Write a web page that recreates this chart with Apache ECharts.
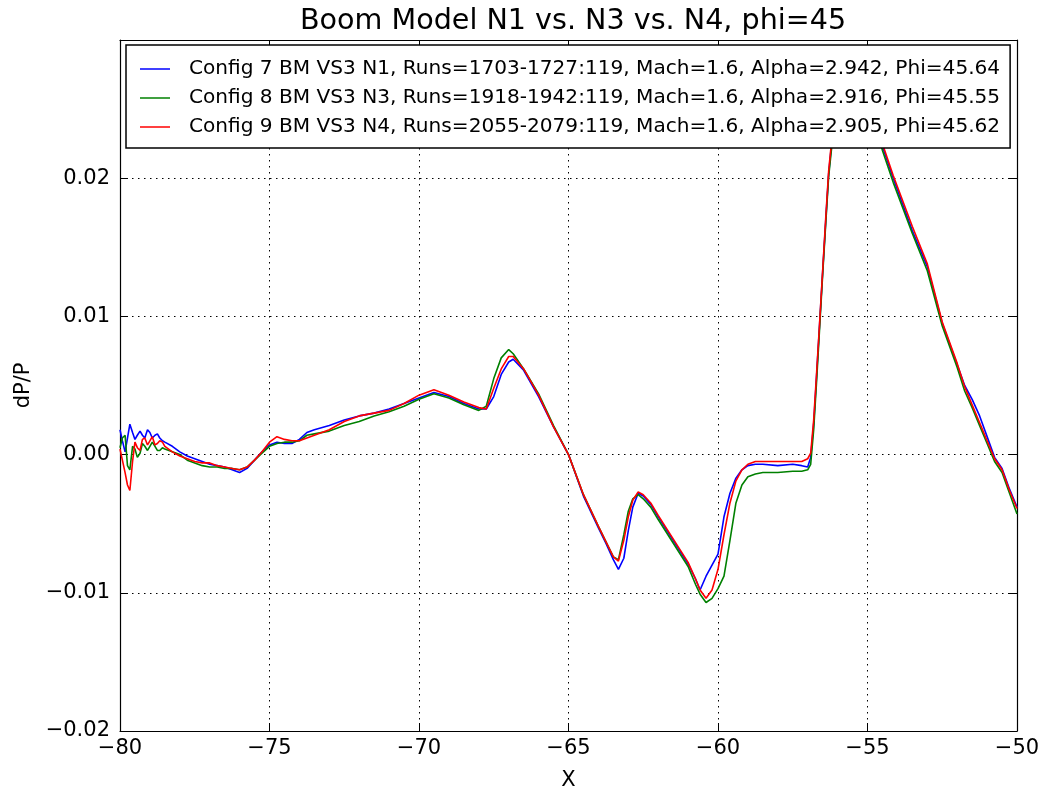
<!DOCTYPE html>
<html>
<head>
<meta charset="utf-8">
<script src="https://cdn.jsdelivr.net/npm/echarts@6/dist/echarts.min.js"></script>
<style>
html,body{margin:0;padding:0;background:#fff;}
#chart{width:1045px;height:786px;}
</style>
</head>
<body>
<div id="chart"></div>
<script>
const titleText = 'Boom Model N1 vs. N3 vs. N4, phi=45';
const seriesNames = [
  'Config 7 BM VS3 N1, Runs=1703-1727:119, Mach=1.6, Alpha=2.942, Phi=45.64',
  'Config 8 BM VS3 N3, Runs=1918-1942:119, Mach=1.6, Alpha=2.916, Phi=45.55',
  'Config 9 BM VS3 N4, Runs=2055-2079:119, Mach=1.6, Alpha=2.905, Phi=45.62'
];
const xTicks = [-80, -75, -70, -65, -60, -55, -50];
const yTicks = [-0.02, -0.01, 0.00, 0.01, 0.02];

const xs = [
 -80.00,-79.92,-79.83,-79.75,-79.67,-79.58,-79.50,-79.42,-79.33,-79.25,-79.17,-79.08,-79.00,-78.92,-78.83,-78.75,-78.67,-78.58,-78.50,
 -78.25,-78.00,-77.75,-77.50,-77.25,-77.00,-76.75,-76.50,-76.25,-76.00,-75.75,-75.50,-75.25,-75.00,-74.75,-74.50,-74.25,-74.00,-73.75,-73.50,
 -73.00,-72.50,-72.00,-71.50,-71.00,-70.50,-70.00,-69.50,-69.00,-68.50,-68.00,-67.75,-67.50,-67.25,-67.00,-66.85,-66.50,-66.00,-65.50,-65.00,
 -64.50,-64.00,-63.75,-63.50,-63.33,-63.15,-63.00,-62.85,-62.67,-62.50,-62.25,-62.00,-61.50,-61.00,-60.75,-60.60,-60.40,-60.20,-60.00,-59.80,
 -59.60,-59.40,-59.20,-59.00,-58.75,-58.50,-58.00,-57.50,-57.20,-57.00,-56.90,-56.80,-56.70,-56.60,-56.50,-56.40,-56.30,-56.20,-56.00,-55.80,
 -55.60,-55.40,-55.00,-54.50,-54.14,-53.50,-53.00,-52.50,-52.00,-51.75,-51.50,-51.25,-51.00,-50.75,-50.50,-50.25,-50.00
];

const yN1 = [
 0.0018,0.0010,0.0002,0.0012,0.0022,0.0016,0.0011,0.0014,0.0017,0.0014,0.0012,0.0018,0.0016,0.0012,0.0014,0.0015,0.0012,0.0010,0.0009,
 0.0006,0.0002,-0.0001,-0.0003,-0.0005,-0.0007,-0.0008,-0.0009,-0.0011,-0.0013,-0.0010,-0.0004,0.0002,0.0007,0.0009,0.0008,0.0008,0.0011,0.0016,0.0018,
 0.0021,0.0025,0.0028,0.0030,0.0033,0.0037,0.0041,0.0045,0.0042,0.0037,0.0033,0.0033,0.0042,0.0058,0.0067,0.0069,0.0061,0.0042,0.0020,0.0000,
 -0.0030,-0.0053,-0.0064,-0.0076,-0.0083,-0.0075,-0.0055,-0.0038,-0.0028,-0.0030,-0.0036,-0.0045,-0.0062,-0.0079,-0.0090,-0.0098,-0.0088,-0.0080,-0.0072,-0.0045,
 -0.0028,-0.0017,-0.0011,-0.0008,-0.0007,-0.0007,-0.0008,-0.0007,-0.0008,-0.0009,-0.0002,0.0022,0.0058,0.0095,0.0132,0.0168,0.0203,0.0225,0.0263,0.0285,
 0.0292,0.0288,0.0263,0.0223,0.0200,0.0162,0.0136,0.0095,0.0065,0.0050,0.0040,0.0028,0.0013,-0.0002,-0.0010,-0.0025,-0.0038
];

const yN3 = [
 0.0005,0.0012,0.0014,-0.0008,-0.0011,0.0006,0.0004,-0.0002,0.0001,0.0008,0.0006,0.0003,0.0006,0.0009,0.0006,0.0003,0.0003,0.0005,0.0004,
 0.0002,0.0000,-0.0004,-0.0006,-0.0008,-0.0009,-0.0009,-0.0010,-0.0010,-0.0011,-0.0009,-0.0004,0.0001,0.0006,0.0008,0.0009,0.0009,0.0010,0.0014,0.0015,
 0.0017,0.0021,0.0024,0.0028,0.0031,0.0035,0.0040,0.0044,0.0041,0.0036,0.0032,0.0035,0.0055,0.0070,0.0076,0.0073,0.0062,0.0044,0.0021,0.0000,
 -0.0029,-0.0052,-0.0063,-0.0074,-0.0076,-0.0058,-0.0041,-0.0032,-0.0029,-0.0032,-0.0038,-0.0047,-0.0064,-0.0081,-0.0094,-0.0101,-0.0107,-0.0104,-0.0097,-0.0088,
 -0.0062,-0.0035,-0.0022,-0.0016,-0.0014,-0.0013,-0.0013,-0.0012,-0.0012,-0.0011,-0.0007,0.0018,0.0054,0.0092,0.0130,0.0166,0.0201,0.0222,0.0260,0.0283,
 0.0290,0.0286,0.0261,0.0220,0.0197,0.0160,0.0133,0.0093,0.0063,0.0046,0.0034,0.0021,0.0008,-0.0005,-0.0013,-0.0028,-0.0043
];

const yN4 = [
 0.0004,-0.0004,-0.0013,-0.0022,-0.0026,-0.0005,0.0009,0.0005,0.0003,0.0011,0.0012,0.0007,0.0010,0.0013,0.0007,0.0008,0.0010,0.0009,0.0006,
 0.0002,-0.0001,-0.0003,-0.0005,-0.0006,-0.0006,-0.0008,-0.0009,-0.0010,-0.0011,-0.0009,-0.0004,0.0002,0.0009,0.0013,0.0011,0.0010,0.0010,0.0012,0.0014,
 0.0018,0.0024,0.0028,0.0030,0.0032,0.0037,0.0043,0.0047,0.0043,0.0038,0.0034,0.0033,0.0048,0.0062,0.0071,0.0071,0.0062,0.0043,0.0020,0.0000,
 -0.0029,-0.0052,-0.0063,-0.0074,-0.0077,-0.0062,-0.0045,-0.0033,-0.0027,-0.0029,-0.0035,-0.0044,-0.0061,-0.0078,-0.0090,-0.0098,-0.0104,-0.0098,-0.0083,-0.0058,
 -0.0035,-0.0019,-0.0011,-0.0007,-0.0005,-0.0005,-0.0005,-0.0005,-0.0005,-0.0003,0.0001,0.0025,0.0060,0.0096,0.0133,0.0170,0.0205,0.0227,0.0265,0.0287,
 0.0294,0.0290,0.0265,0.0225,0.0202,0.0165,0.0138,0.0096,0.0066,0.0049,0.0036,0.0023,0.0010,-0.0003,-0.0011,-0.0026,-0.0039
];

const colors = ['#0000ff', '#008000', '#ff0000'];
const FONT = 'DejaVu Sans';

function pairs(ys) { return xs.map((x, i) => [x, ys[i]]); }
function fmtX(v) { return String(v).replace('-', '\u2212'); }
function fmtY(v) {
  const r = Math.round(v * 100) / 100;
  if (Math.abs(r - 0.03) < 1e-9) return '';
  return r.toFixed(2).replace('-', '\u2212');
}

const chart = echarts.init(document.getElementById('chart'), null, {renderer: 'canvas'});
const gridLine = {show: true, lineStyle: {color: '#000', type: [1.5, 4.5], width: 1}};
const axisLine = {show: true, onZero: false, lineStyle: {color: '#000', width: 1.2}};
const tickIn = {show: true, inside: true, length: 8, lineStyle: {color: '#000', width: 1}};

chart.setOption({
  animation: false,
  backgroundColor: '#fff',
  textStyle: {fontFamily: FONT},
  title: {
    text: titleText,
    left: 568, top: 2, textAlign: 'center',
    textStyle: {fontFamily: FONT, fontSize: 28.6, fontWeight: 'normal', color: '#000'}
  },
  grid: {left: 120, right: 28, top: 40, bottom: 55, containLabel: false, outerBoundsMode: 'none'},
  legend: {
    orient: 'vertical',
    left: 126, top: 45,
    z: 50, zlevel: 0,
    backgroundColor: '#fff',
    borderColor: '#000', borderWidth: 1.5,
    padding: [14, 10, 11, 14],
    itemGap: 9,
    itemWidth: 30, itemHeight: 20,
    icon: 'path://M0,0 L30,0 L30,1.5 L0,1.5 Z',
    data: seriesNames.map((n, i) => ({name: n, itemStyle: {color: colors[i]}})),
    textStyle: {fontFamily: FONT, fontSize: 20.1, color: '#000', padding: [0, 0, 0, 14]}
  },
  xAxis: [
    {type: 'value', min: -80, max: -50, interval: 5, position: 'bottom',
     name: 'X', nameLocation: 'middle', nameGap: 39,
     nameTextStyle: {fontFamily: FONT, fontSize: 21, color: '#000'},
     axisLine: axisLine, axisTick: tickIn, splitLine: gridLine,
     axisLabel: {fontFamily: FONT, fontSize: 21, color: '#000', margin: 7, formatter: fmtX}},
    {type: 'value', min: -80, max: -50, interval: 5, position: 'top',
     axisLine: axisLine, axisTick: tickIn, splitLine: {show: false}, axisLabel: {show: false}}
  ],
  yAxis: [
    {type: 'value', min: -0.02, max: 0.03, interval: 0.01, position: 'left',
     name: 'dP/P', nameLocation: 'middle', nameGap: 86, nameRotate: 90,
     nameTextStyle: {fontFamily: FONT, fontSize: 21, color: '#000'},
     axisLine: axisLine, axisTick: tickIn, splitLine: gridLine,
     axisLabel: {fontFamily: FONT, fontSize: 21, color: '#000', margin: 10, formatter: fmtY}},
    {type: 'value', min: -0.02, max: 0.03, interval: 0.01, position: 'right',
     axisLine: axisLine, axisTick: tickIn, splitLine: {show: false}, axisLabel: {show: false}}
  ],
  series: [yN1, yN3, yN4].map((ys, i) => ({
    name: seriesNames[i],
    type: 'line',
    data: pairs(ys),
    symbol: 'none',
    smooth: false,
    clip: true,
    lineStyle: {color: colors[i], width: 1.6},
    itemStyle: {color: colors[i]},
    z: 2 + i
  }))
});
</script>
</body>
</html>
